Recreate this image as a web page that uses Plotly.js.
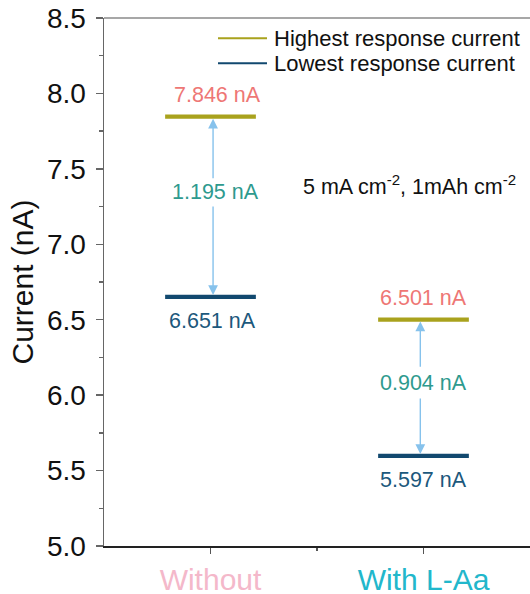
<!DOCTYPE html>
<html>
<head>
<meta charset="utf-8">
<script src="https://cdn.plot.ly/plotly-3.0.1.min.js"></script>
<style>html,body{margin:0;padding:0;background:#fff;}#chart{width:530px;height:594px;}</style>
</head>
<body>
<div id="chart"></div>
<script>
// ---- data ----
const categories = ["Without", "With L-Aa"];
const catPositions = [1, 2];
const highest = [7.846, 6.501];
const lowest = [6.651, 5.597];
const differences = [1.195, 0.904];
const tickLabelColors = ["#F4B8CA", "#22B7CB"];
const seriesNames = ["Highest response current", "Lowest response current"];
const conditionText = "5 mA cm<sup>-2</sup>, 1mAh cm<sup>-2</sup>";

// ---- styling ----
const FONT = "Liberation Sans, Arial, Helvetica, sans-serif";
const OLIVE = "#A9A21D";
const NAVY = "#12496F";
const ARROW = "#86C2EC";
const halfW = 0.213;
const PW = 426, PH = 528, ML = 104, MT = 18;

function segs(vals) {
  const x = [], y = [];
  vals.forEach((v, i) => {
    if (i > 0) { x.push(null); y.push(null); }
    x.push(catPositions[i] - halfW, catPositions[i] + halfW);
    y.push(v, v);
  });
  return {x, y};
}
const hs = segs(highest), ls = segs(lowest);

const traces = [
  {type: "scatter", mode: "lines", x: hs.x, y: hs.y, name: seriesNames[0],
   line: {color: OLIVE, width: 4.3}, showlegend: false, hoverinfo: "skip"},
  {type: "scatter", mode: "lines", x: ls.x, y: ls.y, name: seriesNames[1],
   line: {color: NAVY, width: 4.3}, showlegend: false, hoverinfo: "skip"}
];

// label positions (centre of difference text) and arrow gaps, in data units
const diffLabelY = [7.344, 6.083];
const gapHalf = [0.083, 0.095];
const arrowX = [1.012, 1.985];
const labelXShift = {high: [7, 0], low: [2, 0], diff: [5, 0]};

const annotations = [];
catPositions.forEach((c, i) => {
  const fs = 21.5;
  annotations.push({x: c, y: highest[i], xref: "x", yref: "y", text: highest[i].toFixed(3) + " nA",
    showarrow: false, yshift: 22, xshift: labelXShift.high[i], font: {family: FONT, size: fs, color: "#EE7775"}});
  annotations.push({x: c, y: lowest[i], xref: "x", yref: "y", text: lowest[i].toFixed(3) + " nA",
    showarrow: false, yshift: -24, xshift: labelXShift.low[i], font: {family: FONT, size: fs, color: "#1C587C"}});
  annotations.push({x: c, y: diffLabelY[i], xref: "x", yref: "y", text: differences[i].toFixed(3) + " nA",
    showarrow: false, xshift: labelXShift.diff[i], font: {family: FONT, size: fs, color: "#2E9A8E"}});
  annotations.push({x: arrowX[i], y: highest[i], xref: "x", yref: "y", ax: arrowX[i], ay: diffLabelY[i] + gapHalf[i],
    axref: "x", ayref: "y", text: "", showarrow: true, arrowhead: 2, arrowsize: 1.4, arrowwidth: 1.4,
    arrowcolor: ARROW, standoff: 2});
  annotations.push({x: arrowX[i], y: lowest[i], xref: "x", yref: "y", ax: arrowX[i], ay: diffLabelY[i] - gapHalf[i],
    axref: "x", ayref: "y", text: "", showarrow: true, arrowhead: 2, arrowsize: 1.4, arrowwidth: 1.4,
    arrowcolor: ARROW, standoff: 2});
});

// condition text
annotations.push({x: (301 - ML) / PW, y: 1 - (184.5 - MT) / PH, xref: "paper", yref: "paper",
  xanchor: "left", yanchor: "middle", text: conditionText, showarrow: false,
  font: {family: FONT, size: 21.5, color: "#111"}});

// custom legend
const legColors = [OLIVE, NAVY];
const legY = [1 - (38.3 - MT) / PH, 1 - (63.3 - MT) / PH];
const shapes = [
  {type: "line", xref: "paper", yref: "paper", x0: 0, x1: 1, y0: 1, y1: 1, line: {color: "#8a8a8a", width: 1.5}}
];
seriesNames.forEach((n, i) => {
  shapes.push({type: "line", xref: "paper", yref: "paper", x0: (218 - ML) / PW, x1: (267 - ML) / PW,
    y0: legY[i], y1: legY[i], line: {color: legColors[i], width: 2}});
  annotations.push({x: (272 - ML) / PW, y: legY[i], xref: "paper", yref: "paper", xanchor: "left", yanchor: "middle",
    text: n, showarrow: false, font: {family: FONT, size: 22, color: "#111"}});
});

const layout = {
  width: 530, height: 594,
  margin: {l: ML, r: 0, t: MT, b: 48},
  paper_bgcolor: "#fff", plot_bgcolor: "#fff",
  font: {family: FONT, color: "#111"},
  xaxis: {
    range: [0.5, 2.5], showgrid: false, zeroline: false,
    showline: true, linecolor: "#222", linewidth: 1.5,
    tickmode: "array", tickvals: catPositions,
    ticktext: categories.map((c, i) => '<span style="color:' + tickLabelColors[i] + '">' + c + '</span>'),
    ticks: "outside", ticklen: 6, tickwidth: 1.3, tickcolor: "#555",
    tickfont: {family: FONT, size: 30, color: "#555"},
    minor: {tickvals: [1.5], ticks: "outside", ticklen: 3.5, tickwidth: 1.3, tickcolor: "#555", showgrid: false}
  },
  yaxis: {
    range: [5.0, 8.5], showgrid: false, zeroline: false,
    showline: true, linecolor: "#666", linewidth: 1.5,
    tickmode: "linear", tick0: 5, dtick: 0.5, tickformat: ".1f",
    ticks: "outside", ticklen: 7, tickwidth: 1.3, tickcolor: "#666",
    tickfont: {family: FONT, size: 28, color: "#111"},
    ticklabelstandoff: 4,
    minor: {dtick: 0.25, ticks: "outside", ticklen: 4, tickwidth: 1.3, tickcolor: "#666", showgrid: false},
    title: {text: "Current (nA)", font: {family: FONT, size: 30, color: "#111"}, standoff: 4}
  },
  annotations: annotations,
  shapes: shapes,
  showlegend: false
};

Plotly.newPlot("chart", traces, layout, {displayModeBar: false, staticPlot: true});
</script>
</body>
</html>
